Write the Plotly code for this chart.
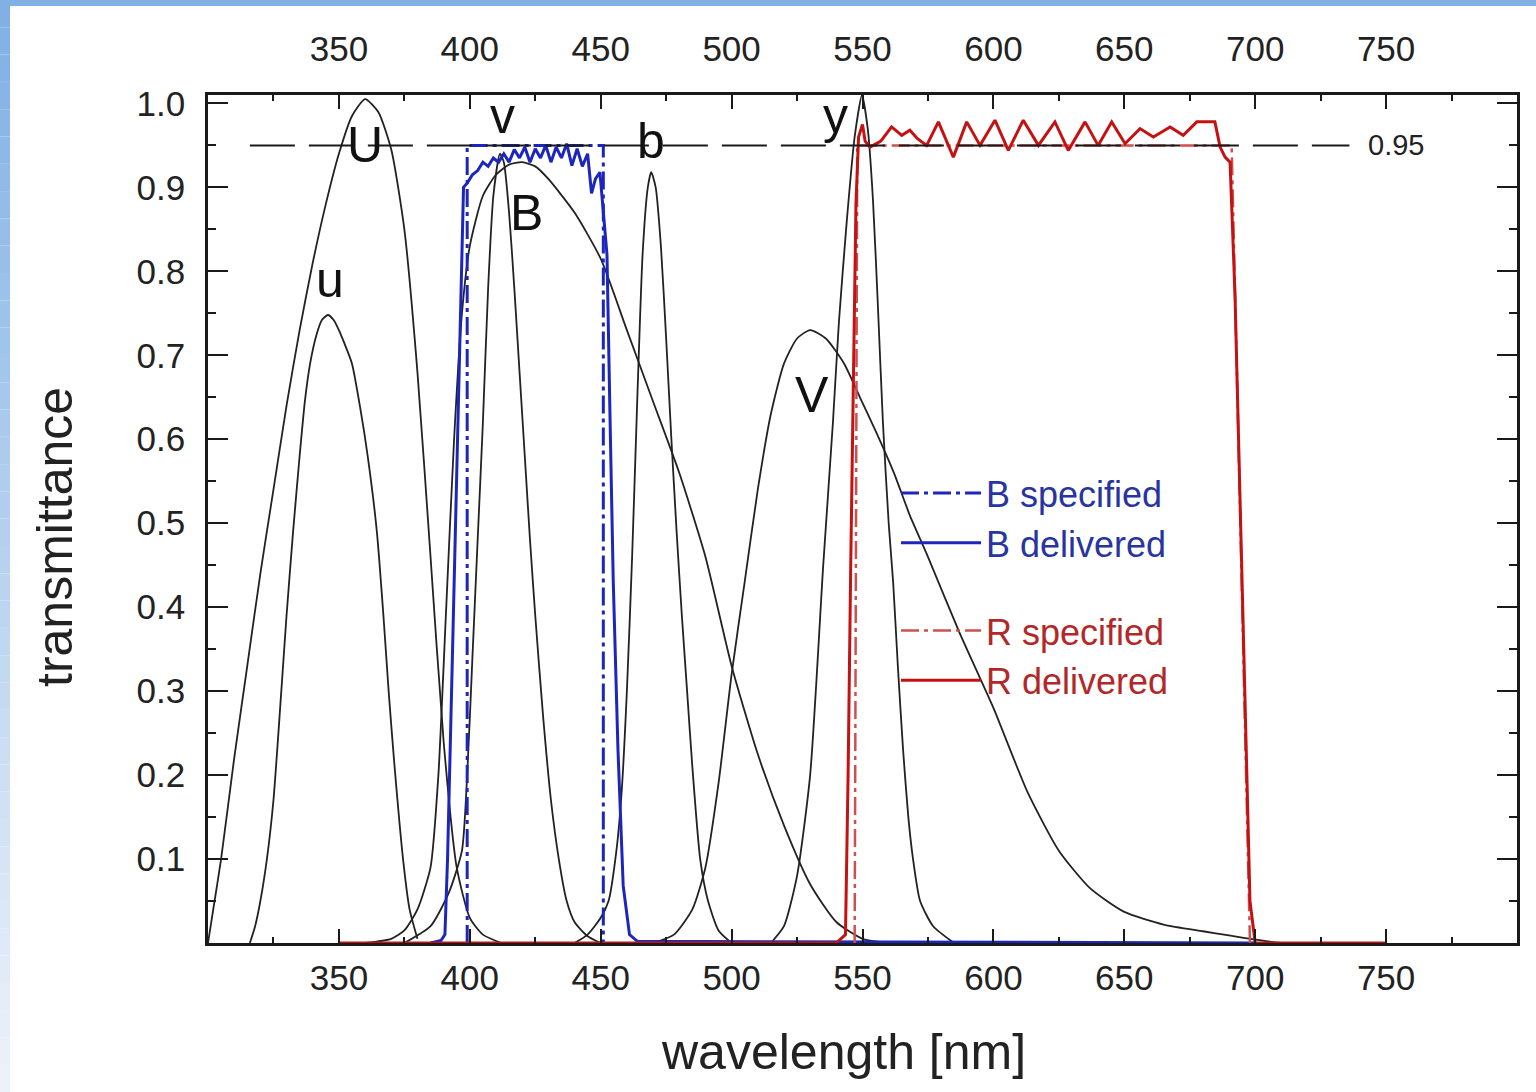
import plotly.graph_objects as go

# ---------------------------------------------------------------- data
# Johnson / Stroemgren passbands (wavelength in nm, transmittance)
U_nm = [300, 302, 305, 310, 315, 320, 325, 330, 335, 340, 345, 350, 355, 360,
        365, 370, 375, 380, 385, 390, 395, 400, 405, 412]
U_T = [0.0, 0.04, 0.10, 0.22, 0.33, 0.44, 0.54, 0.64, 0.73, 0.81, 0.88, 0.94,
       0.985, 1.005, 0.99, 0.945, 0.85, 0.68, 0.46, 0.24, 0.09, 0.03, 0.01, 0.0]

u_nm = [316, 318, 320, 322.5, 325, 328, 330, 332.5, 335, 337, 339, 341.5, 343.5,
        345.8, 348, 350, 352, 355, 358, 361, 364.5, 367, 369, 371, 374.5, 377, 380]
u_T = [0.0, 0.02, 0.05, 0.10, 0.17, 0.30, 0.39, 0.49, 0.58, 0.645, 0.69, 0.725,
       0.742, 0.748, 0.742, 0.73, 0.715, 0.69, 0.64, 0.58, 0.49, 0.39, 0.30,
       0.22, 0.10, 0.04, 0.005]

v_nm = [375, 385, 392, 397, 399, 401, 403, 405, 407, 409, 411.5, 413, 415, 417,
        419, 421, 423, 425, 428, 431, 434, 437, 440, 445, 450]
v_T = [0.0, 0.02, 0.06, 0.11, 0.2, 0.34, 0.48, 0.62, 0.78, 0.89, 0.94, 0.93,
       0.87, 0.78, 0.68, 0.58, 0.48, 0.39, 0.27, 0.17, 0.10, 0.05, 0.025, 0.008, 0.0]

B_nm = [360, 370, 375, 380, 385, 388, 391, 394, 397, 400, 405, 410, 415, 420,
        425, 430, 440, 450, 460, 470, 480, 490, 500, 510, 520, 530, 540, 550, 560]
B_T = [0.0, 0.005, 0.015, 0.04, 0.09, 0.2, 0.4, 0.6, 0.75, 0.83, 0.89, 0.915,
       0.927, 0.93, 0.925, 0.91, 0.87, 0.815, 0.73, 0.645, 0.56, 0.46, 0.33,
       0.225, 0.14, 0.07, 0.025, 0.005, 0.0]

b_nm = [440, 445, 450, 453, 456, 458, 460, 462, 464, 466, 468, 469.3, 471, 473,
        475, 477, 479, 481, 483, 485, 488, 491, 495, 500]
b_T = [0.0, 0.01, 0.03, 0.05, 0.11, 0.18, 0.3, 0.46, 0.65, 0.82, 0.9, 0.918,
       0.9, 0.83, 0.72, 0.6, 0.49, 0.39, 0.3, 0.21, 0.1, 0.05, 0.015, 0.0]

V_nm = [470, 478, 485, 490, 495, 500, 505, 510, 515, 520, 525, 530, 536, 543,
        549, 555, 562, 568, 575, 587, 600, 613, 625, 637, 650, 665, 680, 690, 700, 710]
V_T = [0.0, 0.01, 0.04, 0.09, 0.19, 0.32, 0.43, 0.54, 0.63, 0.69, 0.72, 0.73,
       0.72, 0.69, 0.65, 0.61, 0.56, 0.51, 0.46, 0.37, 0.28, 0.18, 0.11, 0.065,
       0.037, 0.022, 0.014, 0.009, 0.004, 0.0]

y_nm = [515, 520, 525, 530, 535, 538.7, 541, 544, 547, 549.8, 552, 554, 556,
        557.8, 560, 561.7, 563.5, 565.5, 567.5, 569.3, 572, 577, 585]
y_T = [0.0, 0.02, 0.08, 0.2, 0.45, 0.62, 0.74, 0.86, 0.96, 1.01, 0.97, 0.885,
       0.75, 0.62, 0.5, 0.43, 0.33, 0.23, 0.15, 0.1, 0.05, 0.02, 0.0]

# B and R filters: specification boxes and delivered curves
Bspec_nm = [399, 399, 451, 451]
Bspec_T = [0.0, 0.95, 0.95, 0.0]

Bdel_nm = [385, 389, 390.5, 391.5, 393.5, 395.5, 397, 397.6, 399, 401, 403, 405,
           407, 409, 411, 413, 415, 417, 419, 421, 423, 425, 427, 429, 431, 433,
           435, 437, 439, 441, 443, 445, 446.5, 448, 449.7, 451, 452.4, 453.6,
           454.8, 456.6, 458.6, 461, 464, 700]
Bdel_T = [0.0, 0.003, 0.01, 0.1, 0.36, 0.62, 0.81, 0.9, 0.905, 0.915, 0.92, 0.93,
          0.925, 0.935, 0.93, 0.94, 0.93, 0.945, 0.935, 0.948, 0.93, 0.946, 0.935,
          0.95, 0.93, 0.948, 0.935, 0.952, 0.926, 0.946, 0.925, 0.94, 0.893, 0.91,
          0.918, 0.87, 0.82, 0.62, 0.43, 0.23, 0.068, 0.01, 0.002, 0.0]

Rspec_nm = [547, 548, 691, 698]
Rspec_T = [0.0, 0.95, 0.95, 0.0]

Rdel_nm = [350, 540, 543.5, 544.5, 545.5, 546.5, 547.5, 548.5, 550, 551, 552.9,
           557, 561.1, 565, 568.1, 571, 574.5, 579, 584.7, 589.8, 594.9, 600.6,
           605.7, 611.4, 617.2, 623.5, 628.6, 635, 640, 645.2, 650.3, 656, 661.1,
           667.5, 672.5, 677.7, 684.6, 686.6, 688.5, 690.4, 692.3, 694.2, 696.1,
           698, 700, 750]
Rdel_T = [0.0, 0.0, 0.01, 0.2, 0.45, 0.7, 0.88, 0.96, 0.975, 0.955, 0.948, 0.955,
          0.972, 0.962, 0.968, 0.958, 0.95, 0.978, 0.936, 0.978, 0.95, 0.98, 0.944,
          0.98, 0.95, 0.978, 0.944, 0.978, 0.95, 0.978, 0.952, 0.97, 0.96, 0.972,
          0.962, 0.978, 0.978, 0.948, 0.936, 0.93, 0.77, 0.53, 0.29, 0.05, 0.0, 0.0]

# reference level
ref_nm = [316, 736]
ref_T = [0.95, 0.95]

x_ticks = [350, 400, 450, 500, 550, 600, 650, 700, 750]
y_ticks = [0.1, 0.2, 0.3, 0.4, 0.5, 0.6, 0.7, 0.8, 0.9, 1.0]
y_ticklabels = ["0.1", "0.2", "0.3", "0.4", "0.5", "0.6", "0.7", "0.8", "0.9", "1.0"]

# curve labels: (text, wavelength, transmittance)
curve_labels = [("U", 360, 0.95), ("u", 346.6, 0.79), ("v", 412.3, 0.985),
                ("B", 421.8, 0.87), ("b", 469.2, 0.955), ("y", 539.5, 0.985),
                ("V", 530.7, 0.653)]

# ---------------------------------------------------------------- figure
W, H = 1536, 1092
ML, MR, MT, MB = 208, 19, 95, 149
PW, PH = W - ML - MR, H - MT - MB

FONT = "Liberation Sans, Arial, sans-serif"
INK = "#1a1a1a"
BLUE = "rgb(28,38,190)"
BLUE_TXT = "rgb(40,52,160)"
RED = "rgb(196,18,18)"
RED_SPEC = "rgb(205,80,80)"
RED_TXT = "rgb(178,40,40)"


def paper_x(px):
    return (px - ML) / PW


def paper_y(py):
    return (H - MB - py) / PH


fig = go.Figure()

# 0.95 reference line (on the top axis, which shares the bottom one)
fig.add_trace(go.Scatter(x=ref_nm, y=ref_T, mode="lines", xaxis="x2", yaxis="y",
                         line=dict(color=INK, width=2, dash="45px,14px"),
                         showlegend=False, hoverinfo="skip"))

for xs, ys in [(U_nm, U_T), (u_nm, u_T), (v_nm, v_T), (B_nm, B_T),
               (b_nm, b_T), (V_nm, V_T), (y_nm, y_T)]:
    fig.add_trace(go.Scatter(x=xs, y=ys, mode="lines",
                             line=dict(color="#222", width=1.8, shape="spline",
                                       smoothing=0.6),
                             showlegend=False, hoverinfo="skip"))

fig.add_trace(go.Scatter(x=Bspec_nm, y=Bspec_T, mode="lines",
                         name=f"<span style='color:{BLUE_TXT}'>B specified</span>",
                         legendgroup="B",
                         line=dict(color=BLUE, width=3, dash="18px,5px,4px,5px")))
fig.add_trace(go.Scatter(x=Bdel_nm, y=Bdel_T, mode="lines",
                         name=f"<span style='color:{BLUE_TXT}'>B delivered</span>",
                         legendgroup="B",
                         line=dict(color=BLUE, width=3)))
fig.add_trace(go.Scatter(x=Rspec_nm, y=Rspec_T, mode="lines",
                         name=f"<span style='color:{RED_TXT}'>R specified</span>",
                         legendgroup="R",
                         line=dict(color=RED_SPEC, width=2.5, dash="18px,5px,4px,5px")))
fig.add_trace(go.Scatter(x=Rdel_nm, y=Rdel_T, mode="lines",
                         name=f"<span style='color:{RED_TXT}'>R delivered</span>",
                         legendgroup="R",
                         line=dict(color=RED, width=3)))

annotations = [dict(x=xv, y=yv, xref="x", yref="y", text=t, showarrow=False,
                    xanchor="center", yanchor="middle",
                    font=dict(family=FONT, size=50, color="#111"))
               for t, xv, yv in curve_labels]
annotations.append(dict(x=paper_x(1396), y=0.95, xref="paper", yref="y",
                        xanchor="center", yanchor="middle",
                        text="0.95", showarrow=False,
                        font=dict(family=FONT, size=29, color="#222")))
# axis titles
annotations.append(dict(x=paper_x(843), y=paper_y(1052), xref="paper", yref="paper",
                        xanchor="center", yanchor="middle", showarrow=False,
                        text="wavelength [nm]",
                        font=dict(family=FONT, size=50, color="#222")))
annotations.append(dict(x=paper_x(55), y=paper_y(537), xref="paper", yref="paper",
                        xanchor="center", yanchor="middle", showarrow=False,
                        text="transmittance", textangle=-90,
                        font=dict(family=FONT, size=50, color="#222")))

# light-blue frame along the top and the left edge
shapes = [dict(type="rect", xref="paper", yref="paper", layer="below",
               x0=paper_x(0), x1=paper_x(W), y0=paper_y(6), y1=paper_y(0),
               fillcolor="rgb(128,176,228)", line=dict(width=0))]
n = 40
c0, c1 = (128, 176, 228), (236, 242, 250)
for i in range(n):
    f = i / (n - 1)
    col = tuple(round(a + (b - a) * f) for a, b in zip(c0, c1))
    shapes.append(dict(type="rect", xref="paper", yref="paper", layer="below",
                       x0=paper_x(0), x1=paper_x(10),
                       y0=paper_y(H * (i + 1) / n), y1=paper_y(H * i / n),
                       fillcolor="rgb(%d,%d,%d)" % col, line=dict(width=0)))

axis_common = dict(showgrid=False, zeroline=False, color=INK,
                   tickfont=dict(family=FONT, size=35, color="#222"))

fig.update_layout(
    width=W, height=H,
    margin=dict(l=ML, r=MR, t=MT, b=MB, pad=0),
    paper_bgcolor="white", plot_bgcolor="white",
    font=dict(family=FONT, color=INK),
    xaxis=dict(range=[300, 800], tickmode="array", tickvals=x_ticks,
               ticks="inside", ticklen=14, tickwidth=2, tickcolor=INK,
               minor=dict(ticks="inside", ticklen=6, tickwidth=2, tick0=325, dtick=50,
                          tickcolor=INK),
               showline=True, linewidth=2.5, linecolor=INK, mirror="ticks",
               ticklabelstandoff=2,
               **axis_common),
    xaxis2=dict(overlaying="x", side="top", matches="x", range=[300, 800],
                tickmode="array", tickvals=x_ticks, ticks="", showline=False,
                ticklabelstandoff=26, **axis_common),
    yaxis=dict(range=[0, 1.01], tickmode="array", tickvals=y_ticks,
               ticktext=y_ticklabels,
               ticks="inside", ticklen=20, tickwidth=2, tickcolor=INK,
               minor=dict(ticks="inside", ticklen=8, tickwidth=2, tick0=0.05, dtick=0.1,
                          tickcolor=INK),
               showline=True, linewidth=2.5, linecolor=INK, mirror="ticks",
               ticklabelstandoff=13,
               **axis_common),
    legend=dict(x=paper_x(896), xanchor="left", y=paper_y(463), yanchor="top",
                bgcolor="rgba(0,0,0,0)", borderwidth=0,
                font=dict(family=FONT, size=36),
                itemwidth=80, tracegroupgap=38, traceorder="grouped",
                itemclick=False, itemdoubleclick=False),
    annotations=annotations,
    shapes=shapes,
)

fig.write_html("out.html")
